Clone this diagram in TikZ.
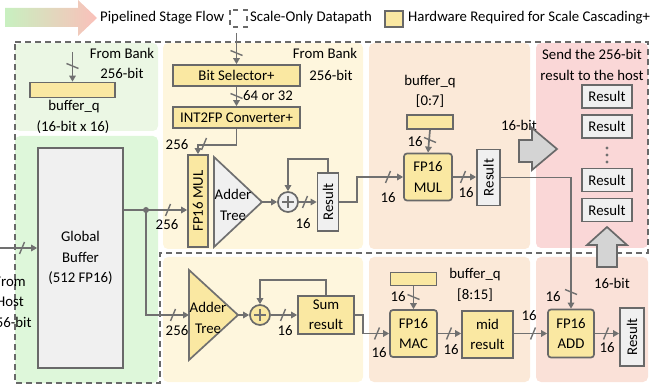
\documentclass[tikz,border=0pt]{standalone}
\usepackage{fontspec}
\setmainfont{Carlito}
\usetikzlibrary{arrows.meta,calc}
\definecolor{lc}{RGB}{112,112,112}
\definecolor{bc}{RGB}{105,105,105}
\definecolor{gfill}{RGB}{240,240,240}
\definecolor{yfill}{RGB}{250,232,162}
\definecolor{afill}{RGB}{212,212,212}
\definecolor{gA}{RGB}{235,247,228}
\definecolor{gB}{RGB}{222,247,218}
\definecolor{yA}{RGB}{254,246,221}
\definecolor{oA}{RGB}{251,233,216}
\definecolor{pA}{RGB}{250,215,215}
\definecolor{pB}{RGB}{250,225,216}
\definecolor{lgL}{RGB}{200,240,192}
\definecolor{lgM}{RGB}{247,230,178}
\definecolor{lgR}{RGB}{250,192,186}
\newcommand{\diagfont}{\fontsize{14.8}{20.5}\selectfont}
\tikzset{
  box/.style={draw=bc, line width=1.7pt, fill=gfill, inner sep=0pt, align=center},
  ybox/.style={box, fill=yfill},
  rbox/.style={ybox, rounded corners=3pt},
  conn/.style={draw=lc, line width=1.7pt, -{Triangle[length=6pt,width=6.5pt]}},
  plain/.style={draw=lc, line width=1.7pt},
  lbl/.style={inner sep=0pt, align=center},
  region/.style={rounded corners=5pt},
  bigarrow/.style={draw=bc, line width=1.7pt, fill=afill, line join=miter},
  slh/.pic={\draw[lc, line width=1.4pt] (-2.5pt,-6pt) -- (2.5pt,6pt);},
  slv/.pic={\draw[lc, line width=1.4pt] (-6pt,2.5pt) -- (6pt,-2.5pt);},
}
\begin{document}
\begin{tikzpicture}[x=1pt,y=-1pt,every node/.style={font=\diagfont}]
\useasboundingbox (0,0) rectangle (651,390);

% ---------- legend ----------
\shade[left color=lgL, middle color=lgM, right color=lgR]
  (5,8) -- (78,8) -- (78,0) -- (97,18) -- (78,36) -- (78,27) -- (5,27) -- cycle;
\node[lbl, anchor=west] (lg1) at (100,18) {Pipelined Stage Flow};
\draw[bc, line width=1.7pt, dash pattern=on 5pt off 5pt] (230,10) rectangle (247,27);
\node[lbl, anchor=west] (lg2) at (250,18) {Scale-Only Datapath};
\draw[bc, line width=1.7pt, fill=yfill] (385,11) rectangle (403,27);
\node[lbl, anchor=west] (lg3) at (408,18) {Hardware Required for Scale Cascading+};

% ---------- stage backgrounds ----------
\fill[gA, region] (15,43) rectangle (158,131);
\fill[gB, region] (15,136) rectangle (158,383);
\fill[yA, region] (163,43) rectangle (363,249);
\fill[yA, region] (163,257) rectangle (363,382);
\fill[oA, region] (369,43) rectangle (530,249);
\fill[oA, region] (369,257) rectangle (530,382);
\fill[pA, region] (536,43) rectangle (648,248);
\fill[pB, region] (536,257) rectangle (648,382);

% scale-only datapath outline
\draw[bc, line width=1.7pt, dash pattern=on 6pt off 4pt]
  (15,42) -- (648,42) -- (648,253) -- (160,253) -- (160,383) -- (15,383) -- cycle;

% ---------- stage 1 ----------
\node[box, minimum width=85, minimum height=220] (gb) at (80.5,258) {Global\\Buffer\\(512 FP16)};
\node[ybox, minimum width=85, minimum height=15] (bq1) at (72.5,90) {};
\coordinate (bank1) at (72.5,52);
\node[lbl] (fb1a) at (122,53) {From Bank};
\node[lbl] (fb1b) at (122,73) {256-bit};
\node[lbl] (bq1t) at (74,107) {buffer\_q};
\node[lbl] (bq1s) at (73,127) {(16-bit x 16)};
\coordinate (hostin) at (0,248);
\node[lbl] (host) at (10,302) {From\\Host\\256-bit};

% ---------- stage 2 (top) ----------
\node[ybox, minimum width=127, minimum height=21] (bitsel) at (236.5,75.5) {Bit Selector+};
\node[ybox, minimum width=127, minimum height=21] (int2fp) at (236.5,117.5) {INT2FP Converter+};
\coordinate (bank2) at (236.5,33);
\node[lbl] (fb2a) at (325,53) {From Bank};
\node[lbl] (fb2b) at (331,75) {256-bit};
\node[lbl] (sel) at (268,96) {64 or 32};
\node[ybox, minimum width=20, minimum height=92] (mul1) at (198,201) {};
\node[lbl, rotate=90] (mul1t) at (mul1) {FP16 MUL};
\draw[plain, fill=gfill] (214,157) -- (214,247) -- (262,202) -- cycle;
\coordinate (t1tip) at (262,202);
\node[lbl] (t1t) at (233,205) {Adder\\Tree};
\node[box, circle, minimum size=20] (c1) at (288,202) {};
\draw[lc, line width=1.1pt] (282,202) -- (294,202) (288,196) -- (288,208);
\node[box, minimum width=21, minimum height=58] (res2) at (328,202) {};
\node[lbl, rotate=90] (res2t) at (res2) {Result};
\coordinate (dot) at (146,210);
\coordinate (fbk1) at (288,159);

% ---------- stage 2 (bottom) ----------
\draw[plain, fill=yfill] (189,270) -- (189,360) -- (238,315) -- cycle;
\coordinate (t2l) at (189,315);
\coordinate (t2tip) at (238,315);
\node[lbl] (t2t) at (208,318) {Adder\\Tree};
\node[box, fill=yfill, circle, minimum size=20] (c2) at (260,315) {};
\draw[lc, line width=1.1pt] (254,315) -- (266,315) (260,309) -- (260,321);
\node[ybox, minimum width=56, minimum height=38] (sum) at (326,315) {Sum\\result};
\coordinate (fbk2) at (260,280);

% ---------- stage 3 ----------
\node[lbl] (bq2t) at (430,82) {buffer\_q};
\node[lbl] (bq2s) at (430,101) {[0:7]};
\node[ybox, minimum width=46, minimum height=14] (bq2) at (430,122) {};
\node[rbox, minimum width=48, minimum height=47] (mul3) at (428,177) {FP16\\MUL};
\node[box, minimum width=23, minimum height=56] (res3) at (488.5,177.5) {};
\node[lbl, rotate=90] (res3t) at (res3) {Result};
\node[lbl] (b16a) at (519,125) {16-bit};
\draw[bigarrow] (519,140) -- (532,140) -- (532,128) -- (557,149) -- (532,170) -- (532,162) -- (519,162) -- cycle;

\node[ybox, minimum width=46, minimum height=13] (bq3) at (413.5,279) {};
\node[lbl] (bq3t) at (475,275) {buffer\_q};
\node[lbl] (bq3s) at (475,295) {[8:15]};
\node[rbox, minimum width=47, minimum height=47] (mac) at (413.5,333.5) {FP16\\MAC};
\node[ybox, minimum width=51, minimum height=47] (mid) at (487.5,334.5) {mid\\result};

% ---------- stage 4 ----------
\node[lbl] (send) at (592,65) {Send the 256-bit\\result to the host};
\node[box, minimum width=50, minimum height=23] (r4a) at (607,96.5) {Result};
\node[box, minimum width=50, minimum height=23] (r4b) at (607,126.5) {Result};
\fill[lc] (607,148) circle (1.6) (607,155) circle (1.6) (607,162) circle (1.6);
\node[box, minimum width=50, minimum height=23] (r4c) at (607,180) {Result};
\node[box, minimum width=50, minimum height=23] (r4d) at (607,210) {Result};
\draw[bigarrow] (597,267) -- (597,245) -- (587,245) -- (607,227) -- (627,245) -- (617,245) -- (617,267) -- cycle;
\node[lbl] (b16b) at (612,283) {16-bit};
\node[rbox, minimum width=46, minimum height=48] (add) at (571,333.5) {FP16\\ADD};
\node[box, minimum width=24, minimum height=58] (res5) at (632,337) {};
\node[lbl, rotate=90] (res5t) at (res5) {Result};

% ---------- connectors ----------
\draw[conn] (hostin) -- (gb.west |- hostin);
\pic at (22,248) {slh};
\draw[conn] (bank1) -- (bq1.north);
\pic at (72.5,66) {slv};
\draw[conn] (gb.east |- dot) -- (mul1.west |- dot);
\fill[lc] (dot) circle (3);
\pic at (168,210) {slh};
\node[lbl] (n256a) at (167,225) {256};
\draw[conn] (dot) |- (t2l);
\pic at (173,315) {slh};
\node[lbl] (n256b) at (177,331) {256};

\draw[conn] (bank2) -- (bitsel.north);
\pic at (236.5,53) {slv};
\draw[conn] (bitsel.south) -- (int2fp.north);
\pic at (236.5,96) {slv};
\draw[conn] (int2fp.south) -- ++(0,16) -| (mul1.north);
\pic at (204,144) {slh};
\node[lbl] (n256c) at (177,145) {256};

\draw[conn] (t1tip) -- (c1.west);
\draw[conn] (c1.east) -- (res2.west |- c1.east);
\pic at (305,202) {slh};
\node[lbl] (n16a) at (303,224) {16};
\draw[conn] (res2.north) |- (fbk1) -- (c1.north);

\draw[conn] (t2tip) -- (c2.west);
\draw[conn] (c2.east) -- (sum.west |- c2.east);
\pic at (283,315) {slh};
\node[lbl] (n16b) at (285,331) {16};
\draw[conn] (sum.north) |- (fbk2) -- (c2.north);

\draw[conn] (res2.east |- c1.east) -- (357,202) |- (mul3.west);
\pic at (388,177) {slh};
\node[lbl] (n16c) at (388,198) {16};
\draw[conn] (bq2.south) -- (mul3.north);
\pic at (430,140) {slv};
\node[lbl] (n16d) at (415,142) {16};
\draw[conn] (mul3.east) -- (res3.west |- mul3.east);
\pic at (463,177) {slh};
\node[lbl] (n16e) at (466,193) {16};

\draw[conn] (res3.east) -| (add.north);
\pic at (571,292) {slv};
\node[lbl] (n16f) at (553,297) {16};

\draw[conn] (sum.east) -- (363,315) |- (mac.west);
\pic at (377,333.5) {slh};
\node[lbl] (n16g) at (379,353) {16};
\draw[conn] (bq3.south) -- (mac.north);
\pic at (413.5,297) {slv};
\node[lbl] (n16h) at (398,297) {16};
\draw[conn] (mac.east) -- (mid.west |- mac.east);
\pic at (449,333.5) {slh};
\node[lbl] (n16i) at (451,350) {16};
\draw[conn] (mid.east |- mac.east) -- (add.west);
\pic at (533,333.5) {slh};
\node[lbl] (n16j) at (529,316) {16};
\draw[conn] (add.east) -- (res5.west |- add.east);
\pic at (606,333.5) {slh};
\node[lbl] (n16k) at (607,348) {16};
\end{tikzpicture}
\end{document}
